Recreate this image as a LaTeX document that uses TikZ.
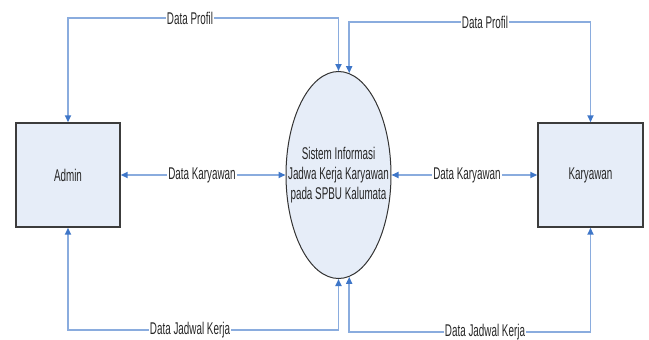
\documentclass[tikz,border=0pt]{standalone}
\usepackage{fontspec}
\usetikzlibrary{arrows.meta,shapes.geometric}
\newfontfamily\dfdfont[FakeStretch=0.58]{Liberation Sans}

\definecolor{flowline}{RGB}{138,172,222}
\definecolor{flowtip}{RGB}{62,118,200}
\definecolor{shapefill}{RGB}{230,237,248}
\definecolor{shapeedge}{RGB}{60,60,60}

\tikzset{
  dfdtext/.style={font=\dfdfont\fontsize{17}{20}\selectfont, text=black!85},
  entity/.style={draw=shapeedge, line width=1.4pt, fill=shapefill,
    minimum width=104pt, minimum height=104pt, inner sep=0pt, dfdtext},
  process/.style={ellipse, draw=black!80, line width=1pt, fill=shapefill,
    minimum width=105pt, minimum height=207pt, inner sep=0pt},
  proctext/.style={align=center, inner sep=0pt, dfdtext},
  lbl/.style={inner sep=1pt, dfdtext},
  dtip/.tip={Triangle[length=7pt, width=6pt, color=flowtip]},
  flow/.style={draw=flowline, line width=1.6pt},
}

\begin{document}
\begin{tikzpicture}[x=1pt, y=-1pt]
\useasboundingbox (0,0) rectangle (649,340);

% external entities and the process
\node[entity] (admin) at (68,175) {Admin};
\node[entity, minimum width=105pt] (kary) at (590.5,175) {Karyawan};
\node[process,
  label={[proctext]center:Sistem Informasi\\Jadwa Kerja Karyawan\\pada SPBU Kalumata}]
  (proc) at (338.5,175) {};

% data flow labels
\node[lbl] (dpa) at (190,18) {Data Profil};
\node[lbl] (dpb) at (485,22) {Data Profil};
\node[lbl] (dka) at (202,175) {Data Karyawan};
\node[lbl] (dkb) at (467,175) {Data Karyawan};
\node[lbl] (dja) at (190,330) {Data Jadwal Kerja};
\node[lbl, inner ysep=0pt] (djb) at (485,332) {Data Jadwal Kerja};

% Data Profil flows
\draw[flow, dtip-] (admin.north) |- (dpa.west);
\draw[flow, -dtip] (dpa.east) -| (proc.north);
\draw[flow, dtip-] (proc.84) |- (dpb.west);
\draw[flow, -dtip] (dpb.east) -| (kary.north);

% Data Karyawan flows
\draw[flow, dtip-] (admin.east) -- (dka.west);
\draw[flow, -dtip] (dka.east) -- (proc.west);
\draw[flow, dtip-] (proc.east) -- (dkb.west);
\draw[flow, -dtip] (dkb.east) -- (kary.west);

% Data Jadwal Kerja flows
\draw[flow, dtip-] (admin.south) |- (dja.west);
\draw[flow, -dtip] (dja.east) -| (proc.south);
\draw[flow, dtip-] (proc.-84) |- (djb.west);
\draw[flow, -dtip] (djb.east) -| (kary.south);
\end{tikzpicture}
\end{document}
